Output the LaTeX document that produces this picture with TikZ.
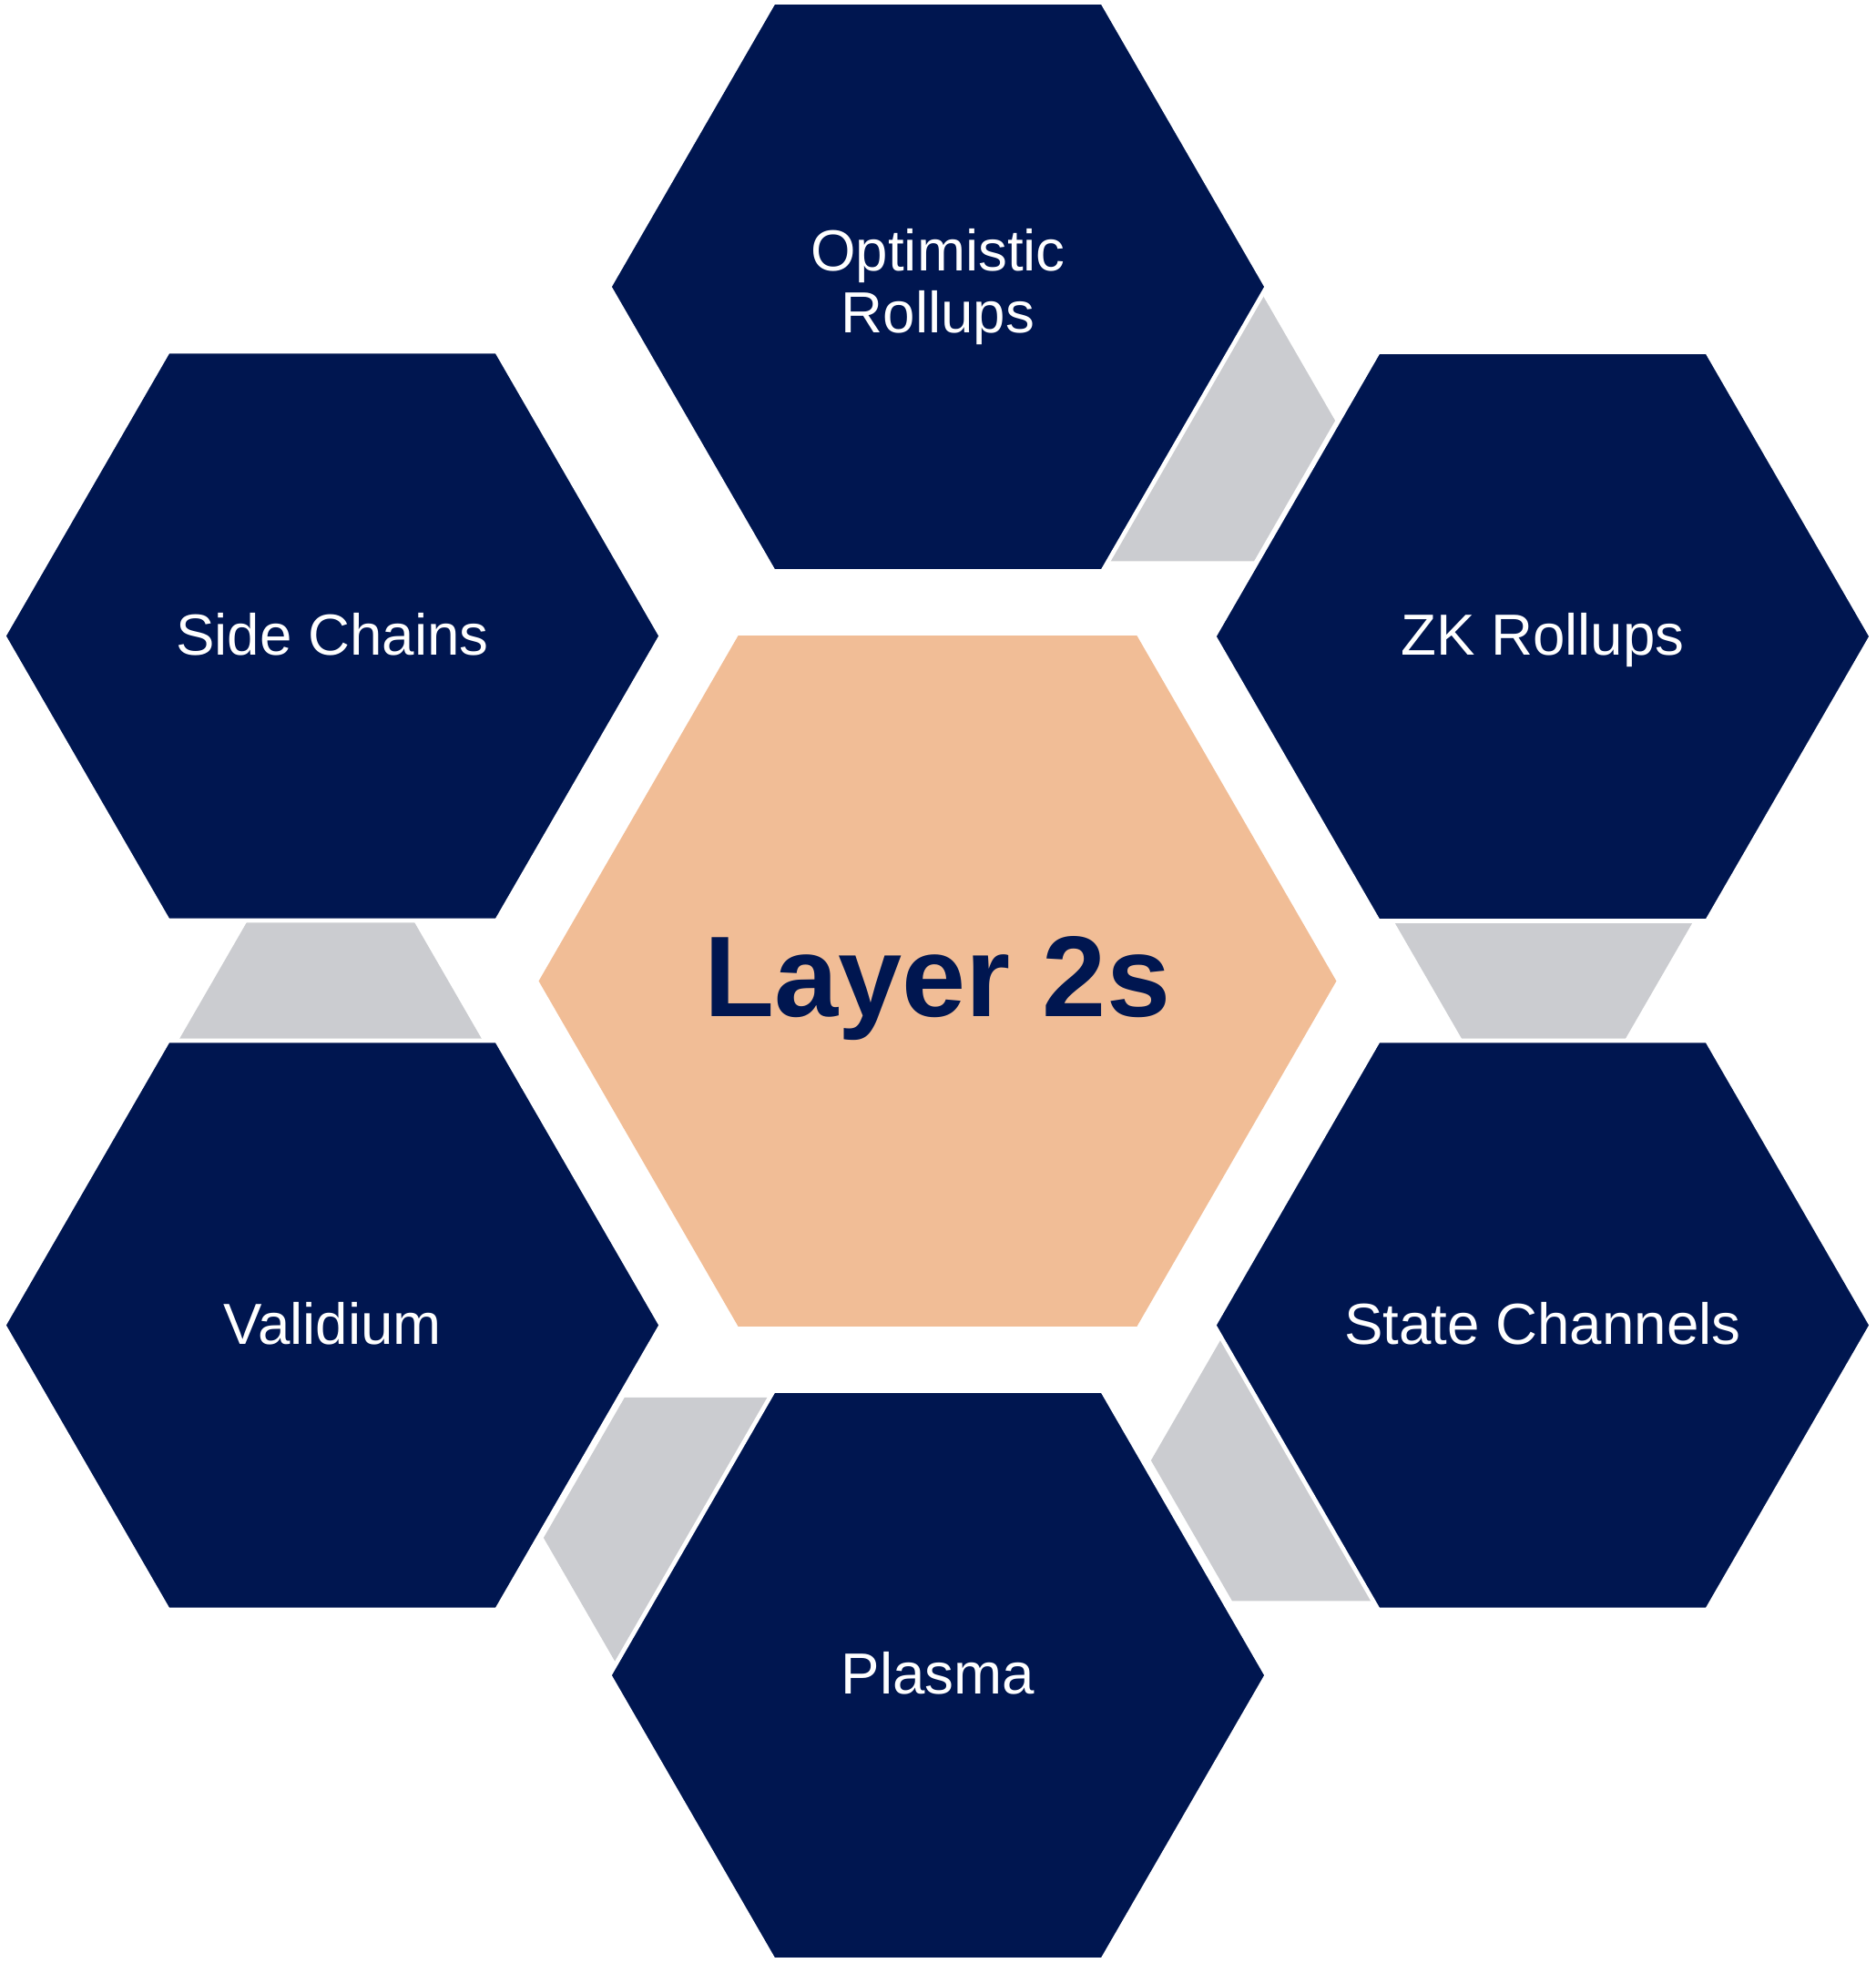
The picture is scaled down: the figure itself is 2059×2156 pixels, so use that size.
\documentclass[tikz,border=0pt]{standalone}
\usepackage{fontspec}
\setmainfont{Liberation Sans}
\usetikzlibrary{shapes.geometric}
\definecolor{navy}{HTML}{001650}
\definecolor{peach}{HTML}{F1BD96}
\definecolor{hexgray}{HTML}{CBCCD0}
\begin{document}
\begin{tikzpicture}[x=0.01cm,y=-0.01cm,
  hexbase/.style={regular polygon, regular polygon sides=6, inner sep=0pt, outer sep=0pt},
  grayhex/.style={hexbase, minimum size=3.56cm, fill=hexgray},
  outerhex/.style={hexbase, minimum size=7.214cm, fill=navy, draw=white, line width=0.047cm,
    text=white, font=\fontsize{18.1}{19.3}\selectfont, align=center},
  oneline/.style={text height=13pt, text depth=1.34pt},
  centerhex/.style={hexbase, minimum size=8.754cm, fill=peach, text=navy,
    font=\bfseries\fontsize{35.85}{40}\selectfont, text height=26pt, text depth=4pt}
]
\useasboundingbox (0,0) rectangle (2059,2156);
% gray connector hexagons (behind)
\node[grayhex] (g1) at (1288,462) {};
\node[grayhex] (g2) at (1695,988) {};
\node[grayhex] (g3) at (1442,1604) {};
\node[grayhex] (g4) at (775,1689) {};
\node[grayhex] (g5) at (363,1162) {};
% outer hexagons
\node[outerhex] (opt) at (1030,315) {Optimistic\\Rollups};
\node[outerhex, oneline] (zk) at (1694,699) {ZK Rollups};
\node[outerhex, oneline] (state) at (1694,1455.5) {State Channels};
\node[outerhex, oneline] (plasma) at (1030,1840) {Plasma};
\node[outerhex, oneline] (valid) at (365,1455.5) {Validium};
\node[outerhex, oneline] (side) at (365,698.5) {Side Chains};
% centre
\node[centerhex] (l2) at (1029.5,1077.5) {Layer 2s};
\end{tikzpicture}
\end{document}
